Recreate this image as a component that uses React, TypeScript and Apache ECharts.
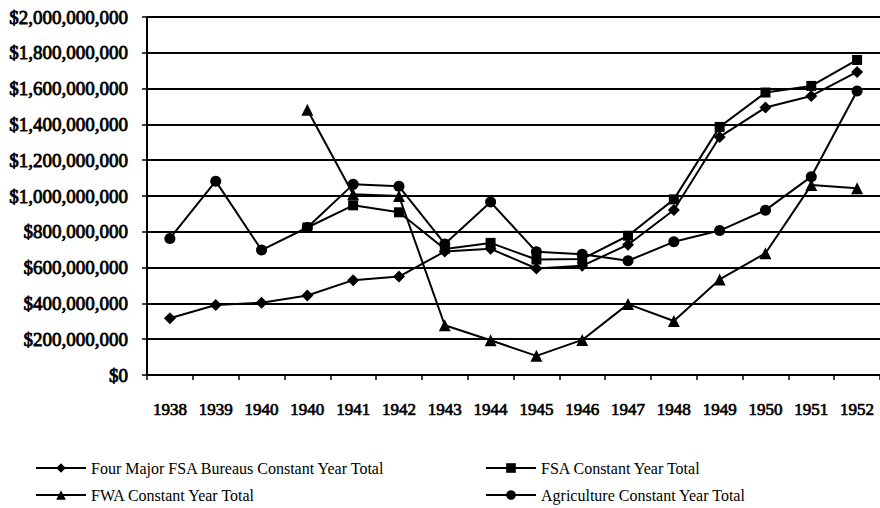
import React, { useEffect, useRef } from "react";
import * as echarts from "echarts";

const years = ["1938", "1939", "1940", "1940", "1941", "1942", "1943", "1944", "1945", "1946", "1947", "1948", "1949", "1950", "1951", "1952"];

// values in millions of dollars
const fourMajor = [317, 391, 404, 444, 530, 550, 690, 705, 595, 610, 728, 922, 1330, 1494, 1559, 1693];
const fsaTotal = [null, null, null, 824, 948, 909, 704, 738, 645, 648, 778, 981, 1386, 1578, 1615, 1760];
const fwaTotal = [null, null, null, 1482, 1010, 1000, 278, 194, 107, 196, 396, 302, 534, 680, 1061, 1043];
const agriculture = [763, 1083, 698, 824, 1065, 1054, 732, 966, 688, 675, 638, 744, 807, 921, 1108, 1587];

const seriesNames = [
  "Four Major FSA Bureaus Constant Year Total",
  "FSA Constant Year Total",
  "FWA Constant Year Total",
  "Agriculture Constant Year Total",
];

const FONT = "Liberation Serif";

const toDollars = (arr: (number | null)[]) => arr.map((v) => (v == null ? null : v * 1e6));

export default function App() {
  const ref = useRef<HTMLDivElement>(null);

  useEffect(() => {
    if (!ref.current) return;
    const chart = echarts.init(ref.current, null, { renderer: "svg" });
    const lineBase = {
      type: "line" as const,
      lineStyle: { color: "#000", width: 2 },
      itemStyle: { color: "#000" },
      showSymbol: true,
    };
    const legendBase = {
      orient: "vertical" as const,
      top: 453,
      height: 54,
      itemWidth: 50,
      itemHeight: 12,
      itemGap: 7,
      textStyle: { fontFamily: FONT, fontSize: 16, color: "#000", lineHeight: 20 },
    };
    chart.setOption({
      animation: false,
      backgroundColor: "#fff",
      textStyle: { fontFamily: FONT, color: "#000" },
      grid: { left: 147, top: 17, width: 741, height: 358 },
      xAxis: {
        type: "category",
        data: years,
        boundaryGap: true,
        axisLine: { lineStyle: { color: "#000", width: 2 } },
        axisTick: { show: true, length: 5, lineStyle: { color: "#000", width: 1.5 } },
        axisLabel: {
          color: "#000",
          fontFamily: FONT,
          fontSize: 17,
          textBorderColor: "#000",
          textBorderWidth: 0.7,
          margin: 26,
          interval: 0,
        },
        splitLine: { show: false },
      },
      yAxis: {
        type: "value",
        min: 0,
        max: 2e9,
        interval: 2e8,
        axisLine: { show: true, lineStyle: { color: "#000", width: 2 } },
        axisTick: { show: true, length: 5, lineStyle: { color: "#000", width: 1.5 } },
        axisLabel: {
          color: "#000",
          fontFamily: FONT,
          fontSize: 19,
          textBorderColor: "#000",
          textBorderWidth: 0.8,
          margin: 19,
          formatter: (v: number) => "$" + Math.round(v).toLocaleString("en-US"),
        },
        splitLine: { show: true, lineStyle: { color: "#000", width: 2 } },
      },
      legend: [
        { ...legendBase, data: [seriesNames[0], seriesNames[2]], left: 30 },
        { ...legendBase, data: [seriesNames[1], seriesNames[3]], left: 480 },
      ],
      series: [
        { ...lineBase, name: seriesNames[0], data: toDollars(fourMajor), symbol: "diamond", symbolSize: 12 },
        { ...lineBase, name: seriesNames[1], data: toDollars(fsaTotal), symbol: "rect", symbolSize: 10 },
        { ...lineBase, name: seriesNames[2], data: toDollars(fwaTotal), symbol: "triangle", symbolSize: 12 },
        { ...lineBase, name: seriesNames[3], data: toDollars(agriculture), symbol: "circle", symbolSize: 11 },
      ],
    });
    return () => chart.dispose();
  }, []);

  return (
    <div
      ref={ref}
      style={{ position: "fixed", left: 0, top: 0, width: 880, height: 508, background: "#fff" }}
    />
  );
}
